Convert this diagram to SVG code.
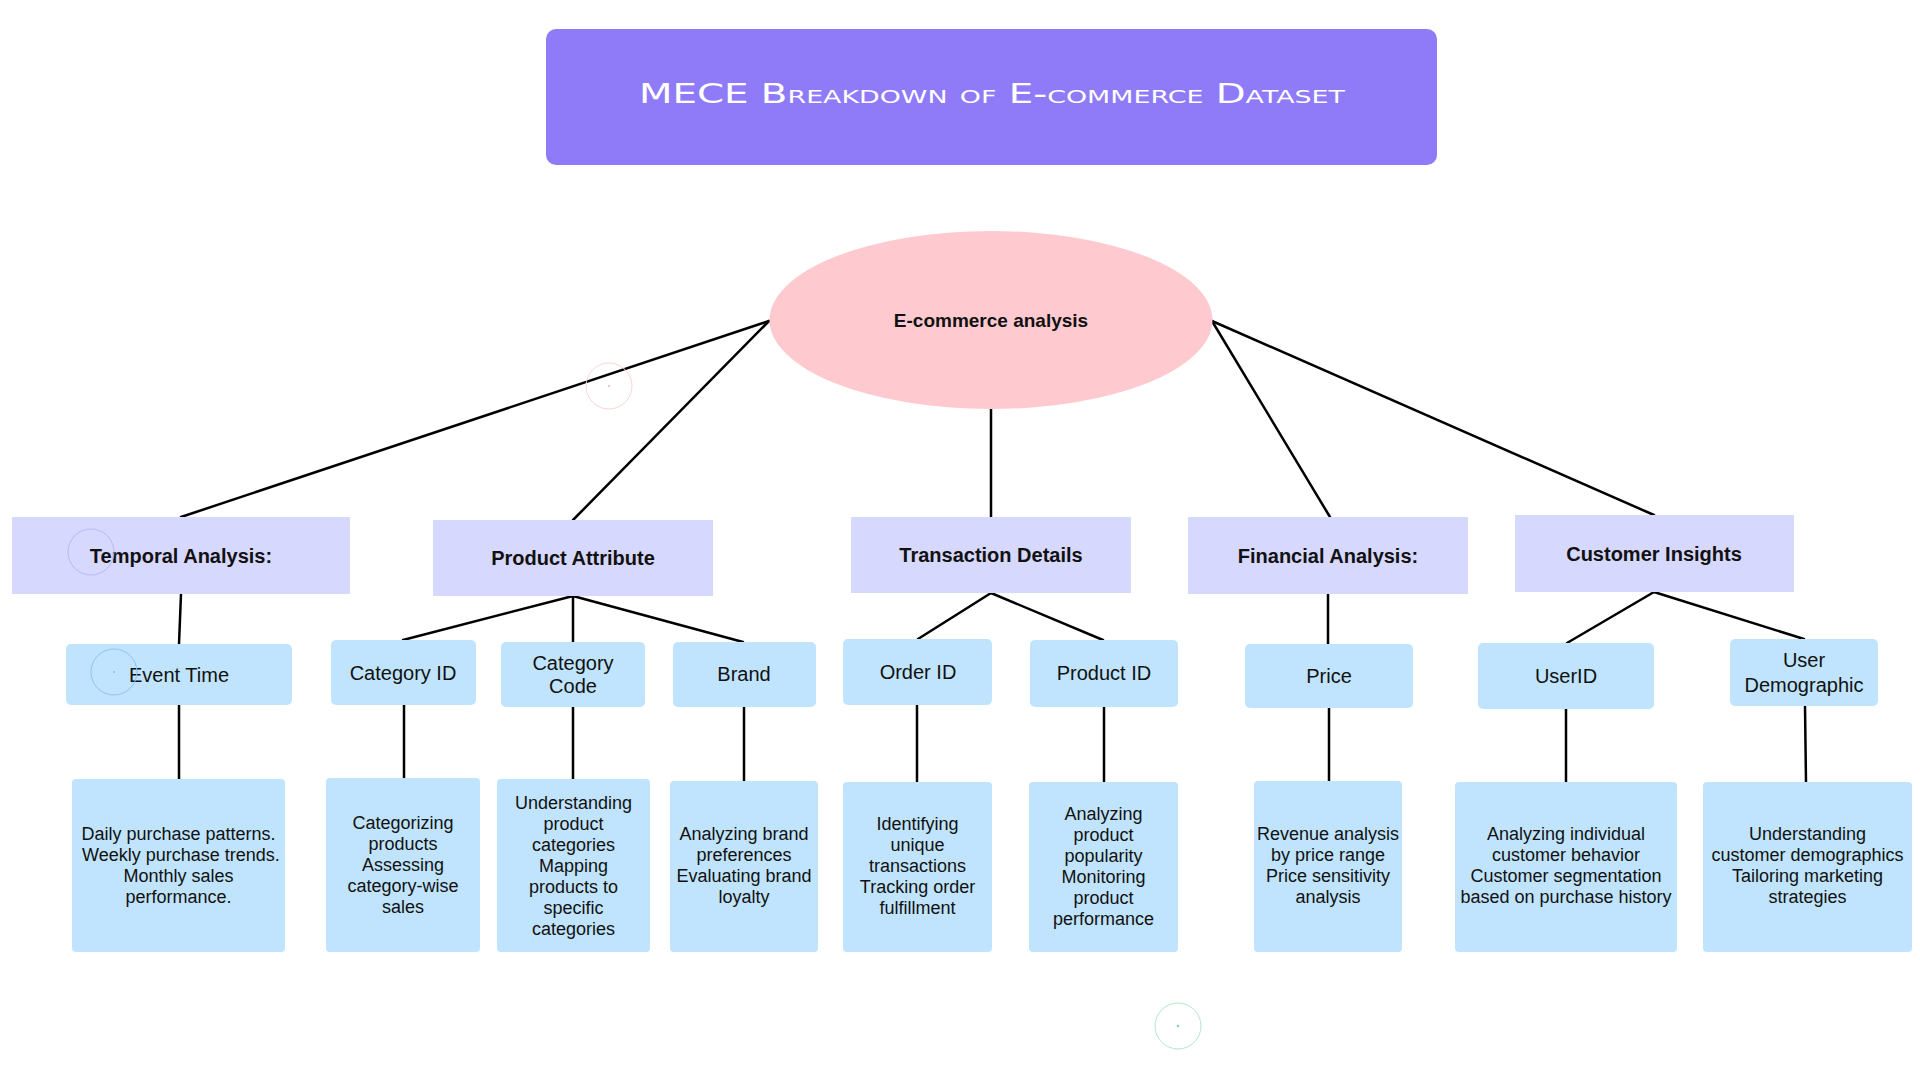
<svg xmlns="http://www.w3.org/2000/svg" width="1920" height="1080" viewBox="0 0 1920 1080">
<style>
.l1{fill:#d7d8fd}
.l2{fill:#c0e4fd}
.t{font-family:"Liberation Sans",Arial,sans-serif;fill:#111;text-anchor:middle}
.b{font-weight:bold;font-size:20px}
.m{font-size:20px}
.d{font-size:18px}
.con line{stroke:#000;stroke-width:2.5;stroke-linecap:round}
</style>
<rect width="1920" height="1080" fill="#fff"/>
<g id="title">
<rect x="546" y="29" width="891" height="136" rx="10" fill="#8f7bf8"/>
<text x="992" y="103" font-family="'DejaVu Sans',Verdana,sans-serif" font-size="26" fill="#fff" text-anchor="middle" font-variant="small-caps" textLength="706" lengthAdjust="spacingAndGlyphs">MECE Breakdown of E-commerce Dataset</text>
</g>
<g class="con" id="connectors">
<line x1="769" y1="321" x2="181" y2="517"/>
<line x1="769" y1="321" x2="573" y2="520"/>
<line x1="991" y1="409" x2="991" y2="517"/>
<line x1="1212" y1="321" x2="1330" y2="517"/>
<line x1="1212" y1="321" x2="1654" y2="515"/>
<line x1="181" y1="594" x2="179" y2="644"/>
<line x1="573" y1="596" x2="403" y2="640"/>
<line x1="573" y1="596" x2="573" y2="642"/>
<line x1="573" y1="596" x2="743" y2="642"/>
<line x1="991" y1="593" x2="918" y2="639"/>
<line x1="991" y1="593" x2="1103" y2="640"/>
<line x1="1328" y1="594" x2="1328" y2="644"/>
<line x1="1654" y1="592" x2="1567" y2="643"/>
<line x1="1654" y1="592" x2="1804" y2="639"/>
<line x1="179" y1="705" x2="179" y2="779"/>
<line x1="404" y1="705" x2="404" y2="778"/>
<line x1="573" y1="707" x2="573" y2="779"/>
<line x1="744" y1="707" x2="744" y2="781"/>
<line x1="917" y1="705" x2="917" y2="782"/>
<line x1="1104" y1="707" x2="1104" y2="782"/>
<line x1="1329" y1="708" x2="1329" y2="781"/>
<line x1="1566" y1="709" x2="1566" y2="782"/>
<line x1="1805" y1="706" x2="1806" y2="782"/>
</g>
<g id="root">
<ellipse cx="991" cy="320" rx="221.5" ry="89" fill="#fecad0"/>
<text class="t b" x="991" y="327" style="font-size:19px">E-commerce analysis</text>
</g>
<g id="temporal"><rect class="l1" x="12" y="517" width="338" height="77"/><text class="t b" x="181" y="563">Temporal Analysis:</text></g>
<g id="product-attribute"><rect class="l1" x="433" y="520" width="280" height="76"/><text class="t b" x="573" y="565">Product Attribute</text></g>
<g id="transaction"><rect class="l1" x="851" y="517" width="280" height="76"/><text class="t b" x="991" y="562">Transaction Details</text></g>
<g id="financial"><rect class="l1" x="1188" y="517" width="280" height="77"/><text class="t b" x="1328" y="563">Financial Analysis:</text></g>
<g id="customer"><rect class="l1" x="1515" y="515" width="279" height="77"/><text class="t b" x="1654" y="561">Customer Insights</text></g>

<g id="event-time"><rect class="l2" x="66" y="644" width="226" height="61" rx="5"/><text class="t m" x="179" y="682">Event Time</text></g>
<g id="category-id"><rect class="l2" x="331" y="640" width="145" height="65" rx="5"/><text class="t m" x="403" y="680">Category ID</text></g>
<g id="category-code"><rect class="l2" x="501" y="642" width="144" height="65" rx="5"/><text class="t m" x="573" y="670">Category</text><text class="t m" x="573" y="693">Code</text></g>
<g id="brand"><rect class="l2" x="673" y="642" width="143" height="65" rx="5"/><text class="t m" x="744" y="681">Brand</text></g>
<g id="order-id"><rect class="l2" x="843" y="639" width="149" height="66" rx="5"/><text class="t m" x="918" y="679">Order ID</text></g>
<g id="product-id"><rect class="l2" x="1030" y="640" width="148" height="67" rx="5"/><text class="t m" x="1104" y="680">Product ID</text></g>
<g id="price"><rect class="l2" x="1245" y="644" width="168" height="64" rx="5"/><text class="t m" x="1329" y="683">Price</text></g>
<g id="userid"><rect class="l2" x="1478" y="643" width="176" height="66" rx="5"/><text class="t m" x="1566" y="683">UserID</text></g>
<g id="user-demographic"><rect class="l2" x="1730" y="639" width="148" height="67" rx="5"/><text class="t m" x="1804" y="667">User</text><text class="t m" x="1804" y="692">Demographic</text></g>

<g id="desc-event"><rect class="l2" x="72" y="779" width="213" height="173" rx="4"/>
<text class="t d" x="178.5"><tspan x="178.5" y="840">Daily purchase patterns.</tspan><tspan x="181" y="861">Weekly purchase trends.</tspan><tspan x="178.5" y="882">Monthly sales</tspan><tspan x="178.5" y="903">performance.</tspan></text></g>
<g id="desc-catid"><rect class="l2" x="326" y="778" width="154" height="174" rx="4"/>
<text class="t d"><tspan x="403" y="829">Categorizing</tspan><tspan x="403" y="850">products</tspan><tspan x="403" y="871">Assessing</tspan><tspan x="403" y="892">category-wise</tspan><tspan x="403" y="913">sales</tspan></text></g>
<g id="desc-catcode"><rect class="l2" x="497" y="779" width="153" height="173" rx="4"/>
<text class="t d"><tspan x="573.5" y="809">Understanding</tspan><tspan x="573.5" y="830">product</tspan><tspan x="573.5" y="851">categories</tspan><tspan x="573.5" y="872">Mapping</tspan><tspan x="573.5" y="893">products to</tspan><tspan x="573.5" y="914">specific</tspan><tspan x="573.5" y="935">categories</tspan></text></g>
<g id="desc-brand"><rect class="l2" x="670" y="781" width="148" height="171" rx="4"/>
<text class="t d"><tspan x="744" y="840">Analyzing brand</tspan><tspan x="744" y="861">preferences</tspan><tspan x="744" y="882">Evaluating brand</tspan><tspan x="744" y="903">loyalty</tspan></text></g>
<g id="desc-order"><rect class="l2" x="843" y="782" width="149" height="170" rx="4"/>
<text class="t d"><tspan x="917.5" y="830">Identifying</tspan><tspan x="917.5" y="851">unique</tspan><tspan x="917.5" y="872">transactions</tspan><tspan x="917.5" y="893">Tracking order</tspan><tspan x="917.5" y="914">fulfillment</tspan></text></g>
<g id="desc-product"><rect class="l2" x="1029" y="782" width="149" height="170" rx="4"/>
<text class="t d"><tspan x="1103.5" y="820">Analyzing</tspan><tspan x="1103.5" y="841">product</tspan><tspan x="1103.5" y="862">popularity</tspan><tspan x="1103.5" y="883">Monitoring</tspan><tspan x="1103.5" y="904">product</tspan><tspan x="1103.5" y="925">performance</tspan></text></g>
<g id="desc-price"><rect class="l2" x="1254" y="781" width="148" height="171" rx="4"/>
<text class="t d"><tspan x="1328" y="840">Revenue analysis</tspan><tspan x="1328" y="861">by price range</tspan><tspan x="1328" y="882">Price sensitivity</tspan><tspan x="1328" y="903">analysis</tspan></text></g>
<g id="desc-userid"><rect class="l2" x="1455" y="782" width="222" height="170" rx="4"/>
<text class="t d"><tspan x="1566" y="840">Analyzing individual</tspan><tspan x="1566" y="861">customer behavior</tspan><tspan x="1566" y="882">Customer segmentation</tspan><tspan x="1566" y="903">based on purchase history</tspan></text></g>
<g id="desc-demographic"><rect class="l2" x="1703" y="782" width="209" height="170" rx="4"/>
<text class="t d"><tspan x="1807.5" y="840">Understanding</tspan><tspan x="1807.5" y="861">customer demographics</tspan><tspan x="1807.5" y="882">Tailoring marketing</tspan><tspan x="1807.5" y="903">strategies</tspan></text></g>

<g id="decor" fill="none" stroke-width="1">
<circle cx="91" cy="552" r="23" stroke="#b8b8f4"/>
<circle cx="114" cy="672" r="23" stroke="#8cc2f2"/>
<circle cx="114" cy="672" r="1" fill="#8cc2f2" stroke="none"/>
<circle cx="609" cy="386" r="23" stroke="#ffd2d8"/>
<circle cx="609" cy="386" r="1" fill="#f4b0bb" stroke="none"/>
<circle cx="1178" cy="1026" r="23" stroke="#b0e8c8"/>
<circle cx="1178" cy="1026" r="1.2" fill="#7fd0a0" stroke="none"/>
</g>
</svg>
